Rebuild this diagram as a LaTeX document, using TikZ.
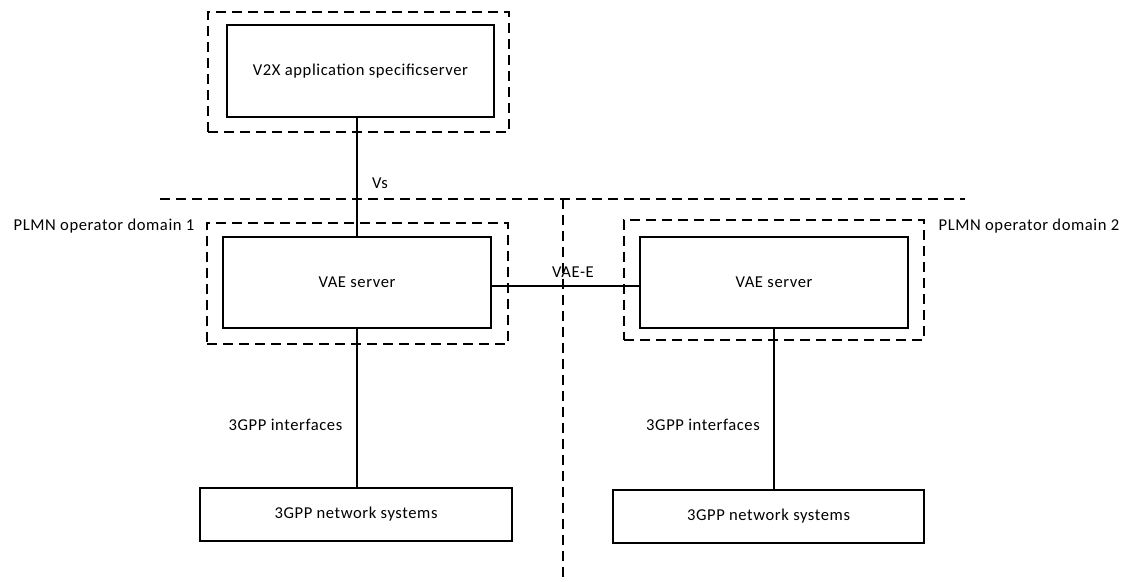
\documentclass[tikz,border=0pt]{standalone}
\usepackage{fontspec}
\setmainfont{Carlito}[LetterSpace=3.5]
\usetikzlibrary{positioning}
\tikzstyle{serverBox} = [
  shape=rectangle,
  draw,
  line width=0.6pt,
  align=center,
  inner sep=0pt,
  font=\fontsize{8.3}{10}\selectfont,
  ]
\tikzstyle{domainBox} = [
  shape=rectangle,
  draw,
  dashed,
  dash pattern=on 5pt off 3pt,
  line width=0.6pt,
  inner sep=0pt,
  ]
\tikzstyle{borderLine} = [
  dash pattern=on 5pt off 3pt,
  line width=0.6pt,
  ]
\tikzstyle{ifLabel} = [
  inner sep=0pt,
  font=\fontsize{8.3}{10}\selectfont,
  ]

\begin{document}
\begin{tikzpicture}[
  x=0.5pt,
  y=-0.5pt,
  line width=0.6pt]
  \useasboundingbox (0,0) rectangle (1125,582);
  % application server on top
  \node[domainBox, minimum width=150.5pt, minimum height=60pt] (appDom) at (358.5,72) {};
  \node[serverBox, minimum width=133.5pt, minimum height=46pt] (app) at (360.5,71)
    {V2X application specificserver};
  % operator domains
  \node[domainBox, minimum width=150.5pt, minimum height=60.5pt] (dom1) at (357.5,283.5) {};
  \node[serverBox, minimum width=134pt, minimum height=45.5pt] (vae1) at (357,282.5) {VAE server};
  \node[domainBox, minimum width=150pt, minimum height=60pt] (dom2) at (774,280) {};
  \node[serverBox, minimum width=134pt, minimum height=45.5pt] (vae2) at (774,282.5) {VAE server};
  \node[ifLabel, anchor=east] (dom1Label) at (195,226) {PLMN operator domain 1};
  \node[ifLabel, anchor=west] (dom2Label) at (938,226) {PLMN operator domain 2};
  % 3GPP networks
  \node[serverBox, minimum width=156pt, minimum height=26.5pt] (net1) at (356,514.5) {3GPP network systems};
  \node[serverBox, minimum width=155.5pt, minimum height=26.5pt] (net2) at (768.5,516.5) {3GPP network systems};
  % domain borders
  \coordinate (borderW) at (160,199);
  \coordinate (borderE) at (965,199);
  \coordinate (borderN) at (563,199);
  \coordinate (borderS) at (563,582);
  \draw[borderLine] (borderW) -- (borderE);
  \draw[borderLine] (borderN) -- (borderS);
  % reference points
  \draw (app.south -| vae1.north) -- (vae1.north);
  \draw ([yshift=-1.75pt]vae1.east) -- ([yshift=-1.75pt]vae1.east -| vae2.west);
  \draw (vae1.south) -- (vae1.south |- net1.north);
  \draw (vae2.south) -- (vae2.south |- net2.north);
  \node[ifLabel] (vsLabel) at (380,183) {Vs};
  \node[ifLabel] (vaeeLabel) at (573,272) {VAE-E};
  \node[ifLabel] (if1Label) at (285.5,425) {3GPP interfaces};
  \node[ifLabel] (if2Label) at (703,425) {3GPP interfaces};
\end{tikzpicture}
\end{document}
